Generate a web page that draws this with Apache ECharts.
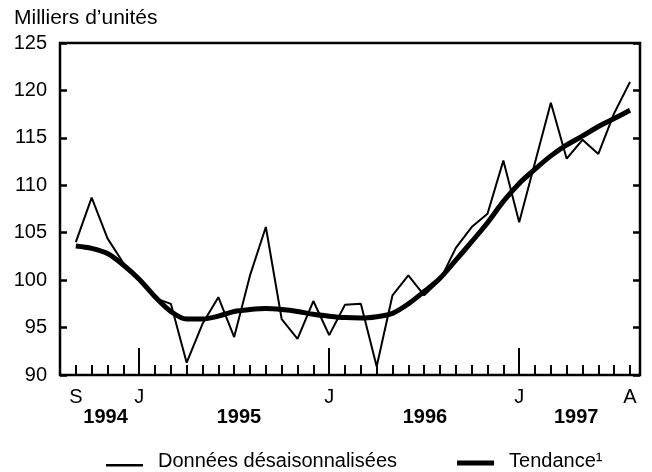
<!DOCTYPE html>
<html>
<head>
<meta charset="utf-8">
<script src="https://cdn.jsdelivr.net/npm/echarts@6/dist/echarts.min.js"></script>
<style>
html,body{margin:0;padding:0;background:#fff;}
#chart{width:652px;height:472px;}
</style>
</head>
<body>
<div id="chart"></div>
<script>
// Months from September 1994 to August 1997
const months = ['S','O','N','D','J','F','M','A','M','J','J','A','S','O','N','D',
                'J','F','M','A','M','J','J','A','S','O','N','D',
                'J','F','M','A','M','J','J','A'];
const shownMonthIdx = [0, 4, 16, 28, 35];
const years = ['1994','1995','1996','1997'];
const yTicks = [90, 95, 100, 105, 110, 115, 120, 125];

// Seasonally adjusted data (thousands of units)
const rawValues = [104.0, 108.7, 104.4, 101.8, 100.0, 98.1, 97.5, 91.3, 95.4, 98.2, 94.0, 100.5,
                   105.6, 95.9, 93.8, 97.8, 94.2, 97.4, 97.5, 90.9, 98.4, 100.5, 98.4, 100.0,
                   103.4, 105.6, 107.0, 112.6, 106.1, 112.4, 118.7, 112.8, 114.8, 113.3, 117.6, 120.9];
// Trend
const trendValues = [103.6, 103.35, 102.8, 101.6, 100.1, 98.25, 96.7, 95.9, 95.9, 96.2, 96.7, 96.9,
                     97.0, 96.9, 96.7, 96.4, 96.2, 96.05, 96.0, 96.15, 96.5, 97.5, 98.8, 100.2,
                     102.1, 104.05, 106.05, 108.3, 110.2, 111.7, 113.1, 114.25, 115.2, 116.2, 117.05, 117.9];

const FONT = '"Liberation Sans", Arial, sans-serif';
const chart = echarts.init(document.getElementById('chart'), null, {renderer: 'canvas'});

const xMin = -1, xMax = 35.63;
const monthIdx = months.map((m, i) => i);
const yearPos = [1.88, 10.3, 22.05, 31.6];

chart.setOption({
  backgroundColor: '#ffffff',
  animation: false,
  title: {
    text: 'Milliers d\u2019unités',
    left: 9, top: 3,
    textStyle: {fontFamily: FONT, fontSize: 21, fontWeight: 'normal', color: '#000'}
  },
  grid: {
    left: 60, right: 12, top: 43, bottom: 97,
    show: true, borderColor: '#000', borderWidth: 2.5, backgroundColor: 'transparent'
  },
  legend: {
    left: 106, top: 451, padding: 0,
    itemWidth: 37, itemHeight: 14, itemGap: 60,
    symbolKeepAspect: true,
    textStyle: {fontFamily: FONT, fontSize: 20, color: '#000', padding: [0, 0, 0, 10]},
    data: [
      {name: 'Données désaisonnalisées', icon: 'path://M0,0M0,8.5H37V11H0Z', itemStyle: {color: '#000'}},
      {name: 'Tendance\u00b9', icon: 'path://M0,0M0,4H38V9H0Z', itemStyle: {color: '#000'}}
    ]
  },
  xAxis: [{
    type: 'value', min: xMin, max: xMax, position: 'bottom',
    axisLine: {show: false, onZero: false},
    splitLine: {show: false},
    axisTick: {show: true, inside: true, length: 10, customValues: monthIdx,
               lineStyle: {color: '#000', width: 2}},
    axisLabel: {show: true, customValues: shownMonthIdx, margin: 12,
                formatter: v => months[Math.round(v)],
                fontFamily: FONT, fontSize: 20, color: '#000'}
  }, {
    type: 'value', min: xMin, max: xMax, position: 'bottom',
    axisLine: {show: false, onZero: false},
    splitLine: {show: false},
    axisTick: {show: true, inside: true, length: 27,
               customValues: shownMonthIdx.filter(i => months[i] === 'J'),
               lineStyle: {color: '#000', width: 2}},
    axisLabel: {show: true, customValues: yearPos, margin: 32,
                formatter: v => years[yearPos.indexOf(v)],
                fontFamily: FONT, fontSize: 20, fontWeight: 'bold', color: '#000'}
  }],
  yAxis: [{
    type: 'value', min: 90, max: 125, interval: 5, position: 'left',
    axisLine: {show: false, onZero: false},
    splitLine: {show: false},
    axisTick: {show: true, inside: true, length: 7, lineStyle: {color: '#000', width: 2.5}},
    axisLabel: {margin: 13, fontFamily: FONT, fontSize: 20, color: '#000',
                formatter: v => yTicks.indexOf(v) >= 0 ? String(v) : ''}
  }, {
    type: 'value', min: 90, max: 125, interval: 5, position: 'right',
    axisLine: {show: false, onZero: false},
    splitLine: {show: false},
    axisTick: {show: true, inside: true, length: 7, lineStyle: {color: '#000', width: 2.5}},
    axisLabel: {show: false}
  }],
  series: [{
    name: 'Données désaisonnalisées',
    type: 'line',
    xAxisIndex: 0, yAxisIndex: 0,
    data: rawValues.map((v, i) => [monthIdx[i], v]),
    symbol: 'none',
    lineStyle: {color: '#000', width: 2},
    itemStyle: {color: '#000'},
    z: 3
  }, {
    name: 'Tendance\u00b9',
    type: 'line',
    xAxisIndex: 0, yAxisIndex: 0,
    data: trendValues.map((v, i) => [monthIdx[i], v]),
    symbol: 'none',
    smooth: 0.3,
    lineStyle: {color: '#000', width: 5},
    itemStyle: {color: '#000'},
    z: 2
  }]
});
</script>
</body>
</html>
